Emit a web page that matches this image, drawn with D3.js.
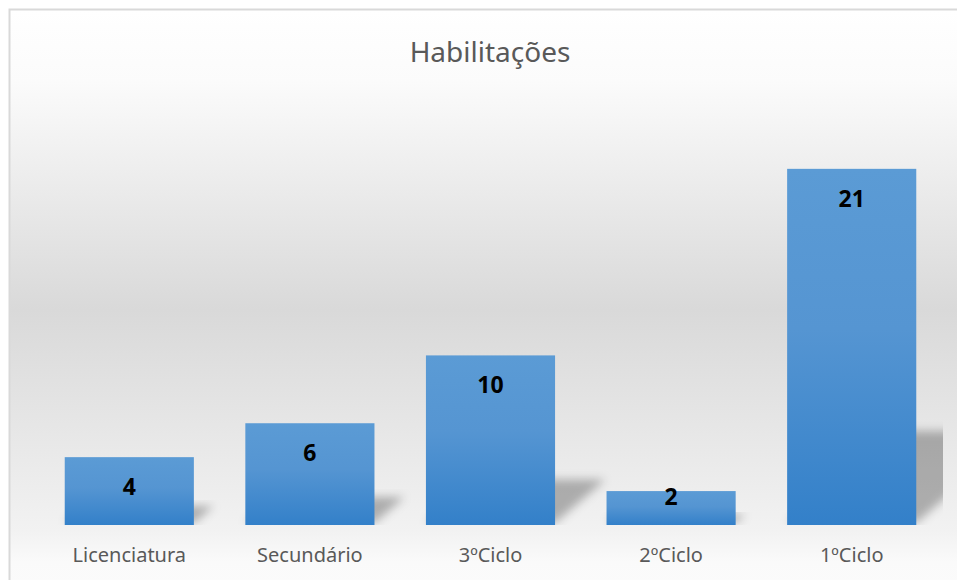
<!DOCTYPE html>
<html>
<head>
<meta charset="utf-8">
<script src="https://cdn.jsdelivr.net/npm/d3@7"></script>
<style>
  body { margin: 0; background: #ffffff; }
  svg { display: block; font-family: 'Noto Sans', sans-serif; }
</style>
</head>
<body>
<div id="chart"></div>
<script>
// Chart data
const categories = ['Licenciatura', 'Secundário', '3ºCiclo', '2ºCiclo', '1ºCiclo'];
const values = [4, 6, 10, 2, 21];
const chartTitle = 'Habilitações';

const width = 957;
const height = 580;
const plot = { left: 39, right: 942, top: 101, bottom: 525 };

const svg = d3.select('#chart').append('svg')
    .attr('width', width)
    .attr('height', height);

const defs = svg.append('defs');

// Background gradient (white -> grey -> white)
const bg = defs.append('linearGradient')
    .attr('id', 'bg-grad')
    .attr('x1', 0).attr('y1', 0).attr('x2', 0).attr('y2', 1);
[[0, '#ffffff'], [0.12, '#fbfbfb'], [0.5, '#d9d9d9'], [0.87, '#f2f2f2'], [0.92, '#fafafa'], [1, '#fcfcfc']]
    .forEach(s => bg.append('stop').attr('offset', s[0]).attr('stop-color', s[1]));

// Bar gradient
const barGrad = defs.append('linearGradient')
    .attr('id', 'bar-grad')
    .attr('x1', 0).attr('y1', 0).attr('x2', 0).attr('y2', 1);
[[0, '#5b9bd5'], [0.45, '#5595d2'], [1, '#3380c9']]
    .forEach(s => barGrad.append('stop').attr('offset', s[0]).attr('stop-color', s[1]));

defs.append('filter')
    .attr('id', 'blur')
    .attr('x', '-30%').attr('y', '-30%').attr('width', '160%').attr('height', '160%')
    .append('feGaussianBlur')
    .attr('stdDeviation', 5);

defs.append('clipPath')
    .attr('id', 'plot-clip')
    .append('rect')
    .attr('x', plot.left)
    .attr('y', 0)
    .attr('width', plot.right - plot.left + 1)
    .attr('height', plot.bottom);

// Chart area with border
svg.append('rect')
    .attr('x', 9.5)
    .attr('y', 9.5)
    .attr('width', width + 20)
    .attr('height', height + 20)
    .attr('fill', 'url(#bg-grad)')
    .attr('stroke', '#d9d9d9')
    .attr('stroke-width', 2);

// Scales
const xScale = d3.scaleBand()
    .domain(categories)
    .range([plot.left, plot.right])
    .paddingInner(0.285)
    .paddingOuter(0.1425);

const yScale = d3.scaleLinear()
    .domain([0, 25])
    .range([plot.bottom, plot.top]);

// Perspective shadows behind the bars
svg.append('g')
    .attr('clip-path', 'url(#plot-clip)')
    .selectAll('polygon')
    .data(categories)
    .enter()
    .append('polygon')
    .attr('points', (d, i) => {
        const x0 = xScale(d);
        const x1 = x0 + xScale.bandwidth();
        const base = yScale(0) - 2;
        const h = base - yScale(values[i]);
        const s = h * 0.3;
        const top = base - h * 0.26;
        return [[x0, base], [x1, base], [x1 + s, top], [x0 + s, top]].join(' ');
    })
    .attr('fill', '#000')
    .attr('fill-opacity', 0.28)
    .attr('filter', 'url(#blur)');

// Bars
svg.append('g')
    .selectAll('rect')
    .data(categories)
    .enter()
    .append('rect')
    .attr('x', d => xScale(d))
    .attr('y', (d, i) => yScale(values[i]))
    .attr('width', xScale.bandwidth())
    .attr('height', (d, i) => yScale(0) - yScale(values[i]))
    .attr('fill', 'url(#bar-grad)');

// Value labels (inside end)
svg.append('g')
    .selectAll('text')
    .data(categories)
    .enter()
    .append('text')
    .attr('x', d => xScale(d) + xScale.bandwidth() / 2)
    .attr('y', (d, i) => Math.min(yScale(values[i]) + 38, yScale(0) - 20))
    .attr('text-anchor', 'middle')
    .style('font-size', '23px')
    .style('font-weight', 'bold')
    .style('fill', '#000')
    .text((d, i) => values[i]);

// Category axis (no line, no ticks)
const xAxis = svg.append('g')
    .attr('transform', `translate(0,${plot.bottom})`)
    .call(d3.axisBottom(xScale).tickSize(0).tickPadding(0));
xAxis.select('.domain').remove();
xAxis.selectAll('text')
    .attr('dy', null)
    .attr('y', 37)
    .style('font-family', "'Noto Sans', sans-serif")
    .style('font-size', '20px')
    .style('fill', '#595959');

// Title
svg.append('text')
    .attr('x', 490)
    .attr('y', 62)
    .attr('text-anchor', 'middle')
    .style('font-size', '28px')
    .style('fill', '#595959')
    .text(chartTitle);
</script>
</body>
</html>
